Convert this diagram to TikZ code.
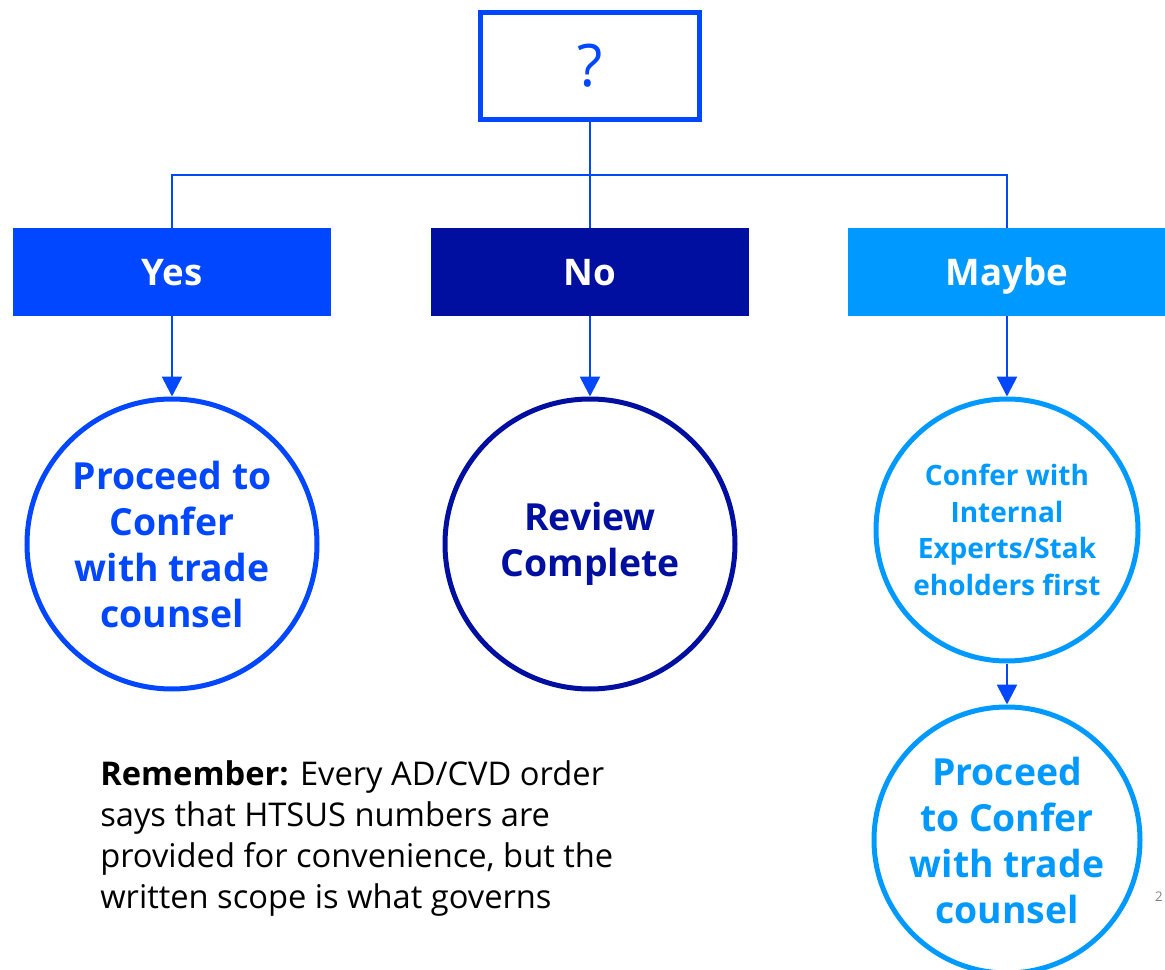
\documentclass[tikz,border=0pt]{standalone}
\usepackage{fontspec}
\setmainfont{Open Sans}
\usetikzlibrary{arrows.meta}
\definecolor{qblue}{RGB}{0,71,255}
\definecolor{qnavy}{RGB}{0,15,159}
\definecolor{qsky}{RGB}{0,153,255}
\tikzset{
  answer/.style={rectangle, minimum width=238.5pt, minimum height=66pt,
    inner sep=0pt, text height=19.6pt, text depth=0pt, text=white,
    font=\fontsize{27.5}{33}\selectfont\bfseries},
  outcome/.style={circle, line width=3.75pt, inner sep=0pt, align=center,
    font=\fontsize{28}{34.5}\selectfont\bfseries},
  link/.style={qblue, line width=2pt},
  flow/.style={link, -{Triangle[width=15pt,length=15pt]}}
}
\begin{document}
\begin{tikzpicture}[x=0.75pt, y=-0.75pt]
  \useasboundingbox (0,0) rectangle (1165,970);
  % question box
  \node (quest) [draw=qblue, line width=3.75pt, minimum width=164pt, minimum height=80pt,
    text=qblue, font=\fontsize{44}{50}\selectfont] at (590,66) {?};
  % the three answers
  \node (yes) [answer, fill=qblue] at (172,272) {Yes};
  \node (no) [answer, fill=qnavy] at (590,272) {No};
  \node (maybe) [answer, fill=qsky] at (1007,272) {Maybe};
  % outcomes
  \node (yesout) [outcome, draw=qblue, text=qblue, minimum size=217.5pt] at (172,544)
    {Proceed to\\Confer\\with trade\\counsel};
  \node (noout) [outcome, draw=qnavy, text=qnavy, minimum size=217.5pt] at (590,544)
    {Review\\Complete};
  \node (maybeout) [outcome, draw=qsky, text=qsky, minimum size=196.5pt,
    font=\fontsize{21}{27.5}\selectfont\bfseries] at (1007,530)
    {Confer with\\Internal\\Experts/Stak\\eholders first};
  \node (counsel) [outcome, draw=qsky, text=qsky, minimum size=199.5pt] at (1007,840)
    {Proceed\\to Confer\\with trade\\counsel};
  % connectors
  \coordinate (split) at (590,175);
  \draw [link] (quest.south) -- (no.north);
  \draw [link] (yes.north) |- (split) -| (maybe.north);
  \draw [flow] (yes.south) -- (yesout.north);
  \draw [flow] (no.south) -- (noout.north);
  \draw [flow] (maybe.south) -- (maybeout.north);
  \draw [flow] (maybeout.south) -- (counsel.north);
  % note
  \node (note) [anchor=west, align=left, inner sep=0pt,
    font=\fontsize{24.5}{30.75}\selectfont] at (100,839)
    {\textbf{Remember:} Every AD/CVD order\\says that HTSUS numbers are\\
     provided for convenience, but the\\written scope is what governs};
  \node (page) [text=gray, inner sep=0pt, font=\fontsize{10}{12}\selectfont] at (1159,897) {2};
\end{tikzpicture}
\end{document}
